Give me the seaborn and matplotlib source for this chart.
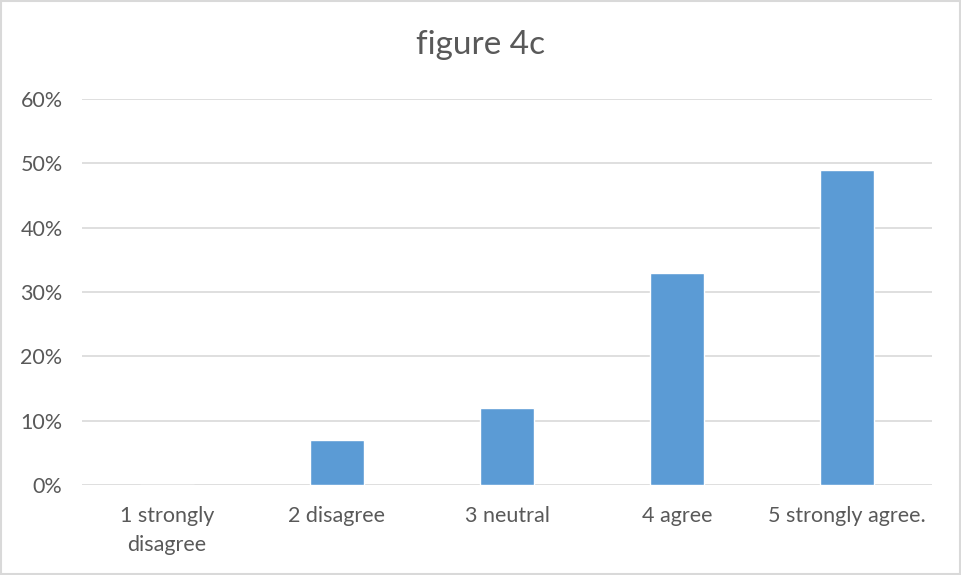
import matplotlib
matplotlib.use("Agg")
import matplotlib.pyplot as plt
import seaborn as sns
import pandas as pd
from matplotlib.ticker import PercentFormatter
from matplotlib.patches import Rectangle

categories = ["1 strongly\ndisagree", "2 disagree", "3 neutral", "4 agree", "5 strongly agree."]
shares = [0.00, 0.07, 0.12, 0.33, 0.49]
y_ticks = [0.0, 0.1, 0.2, 0.3, 0.4, 0.5, 0.6]

sns.set_theme(style="white")
plt.rcParams["font.family"] = ["Lato", "DejaVu Sans"]

df = pd.DataFrame({"category": categories, "share": shares})

fig = plt.figure(figsize=(9.61, 5.75), dpi=100)
ax = fig.add_axes([82 / 961, 90 / 575, 850 / 961, 386 / 575])

sns.barplot(data=df, x="category", y="share", color="#5b9bd5", saturation=1,
            width=0.32, ax=ax, zorder=3)

ax.set_ylim(0, 0.6)
ax.set_xlim(-0.5, len(categories) - 0.5)
ax.set_yticks(y_ticks)
ax.yaxis.set_major_formatter(PercentFormatter(1.0, decimals=0))
ax.grid(axis="y", color="#d9d9d9", linewidth=1.2, zorder=0)
for s in ax.spines.values():
    s.set_visible(False)
ax.set_xlabel("")
ax.set_ylabel("")
ax.tick_params(axis="both", length=0, labelsize=15.5, colors="#595959")
ax.tick_params(axis="y", pad=14)
ax.tick_params(axis="x", pad=15)
for lbl in ax.get_xticklabels():
    lbl.set_linespacing(1.55)

fig.suptitle("figure 4c", y=1 - 45 / 575, va="center", fontsize=24, color="#595959")

fig.patches.append(Rectangle((0.001, 0.001), 0.998, 0.997, transform=fig.transFigure,
                             fill=False, edgecolor="#d9d9d9", linewidth=1.5))

fig.savefig("out.png", dpi=100)
